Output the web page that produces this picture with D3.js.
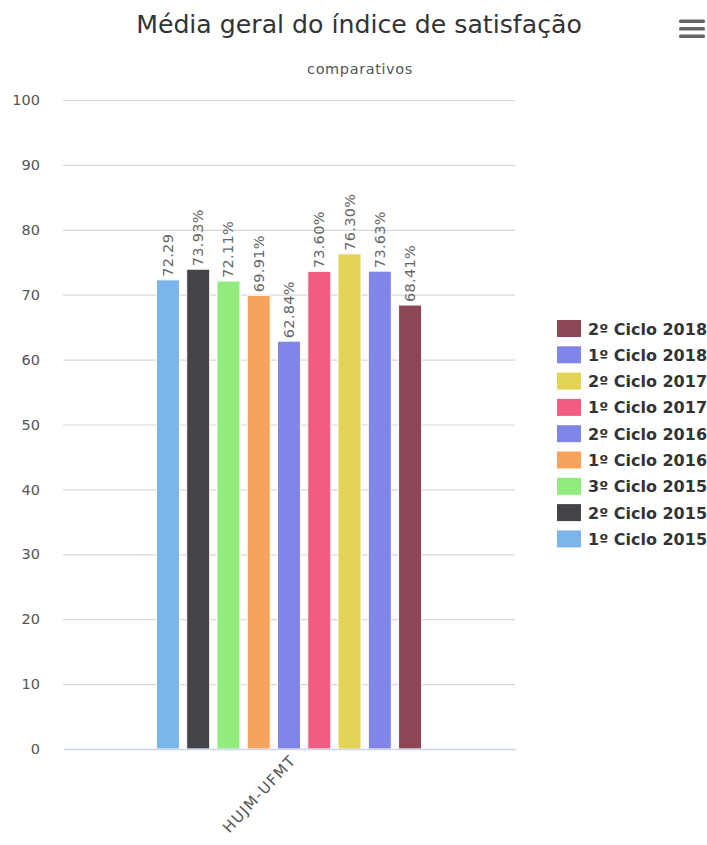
<!DOCTYPE html>
<html>
<head>
<meta charset="utf-8">
<script src="https://cdn.jsdelivr.net/npm/d3@7"></script>
<style>
  html, body { margin: 0; padding: 0; background: #fff; }
  svg { display: block; font-family: "DejaVu Sans", Verdana, sans-serif; }
</style>
</head>
<body>
<svg id="chart" width="707" height="845"></svg>
<script>
// Satisfaction index averages per survey cycle
const categories = ["HUJM-UFMT"];
const seriesNames = ["1º Ciclo 2015", "2º Ciclo 2015", "3º Ciclo 2015", "1º Ciclo 2016",
  "2º Ciclo 2016", "1º Ciclo 2017", "2º Ciclo 2017", "1º Ciclo 2018", "2º Ciclo 2018"];
const seriesValues = [72.29, 73.93, 72.11, 69.91, 62.84, 73.60, 76.30, 73.63, 68.41];
const valueLabels = ["72.29", "73.93%", "72.11%", "69.91%", "62.84%", "73.60%", "76.30%", "73.63%", "68.41%"];
const seriesColors = ["#7cb5ec", "#434348", "#90ed7d", "#f7a35c", "#8085e9",
  "#f15c80", "#e4d354", "#8085e9", "#8d4653"];
const yTicks = [0, 10, 20, 30, 40, 50, 60, 70, 80, 90, 100];

const svg = d3.select("#chart");
const plot = { left: 63, right: 515, top: 100, bottom: 749 };

const y = d3.scaleLinear().domain([0, 100]).range([plot.bottom, plot.top]);
const xCat = d3.scaleBand().domain(categories).range([plot.left, plot.right]).padding(0);
const bw = xCat.bandwidth();
const xSeries = d3.scaleBand().domain(seriesNames)
  .range([bw * 0.2, bw * 0.8]).paddingInner(0.24).paddingOuter(0.1);

// Title and subtitle
svg.append("text").attr("x", 359).attr("y", 33).attr("text-anchor", "middle")
  .attr("font-size", 25.2).attr("fill", "#333").text("Média geral do índice de satisfação");
svg.append("text").attr("x", 360).attr("y", 74).attr("text-anchor", "middle")
  .attr("font-size", 14.5).attr("letter-spacing", 0.6).attr("fill", "#555").text("comparativos");

// Context menu icon
const menu = svg.append("g").attr("fill", "#666");
[19.5, 27, 34.5].forEach(yy => {
  menu.append("rect").attr("x", 679).attr("y", yy).attr("width", 26).attr("height", 3.4).attr("rx", 1.5);
});

// Horizontal grid
const yAxis = d3.axisLeft(y).tickValues(yTicks).tickSize(-(plot.right - plot.left)).tickPadding(23);
const gy = svg.append("g").attr("transform", `translate(${plot.left},0)`).call(yAxis);
gy.select(".domain").remove();
gy.selectAll(".tick line").attr("stroke", "#d8d8d8").attr("stroke-width", 1.2);
gy.selectAll(".tick text").attr("fill", "#555").attr("font-size", 14.5)
  .attr("font-family", "DejaVu Sans, sans-serif");
gy.selectAll(".tick").filter(d => d === 0).select("line").remove();

// Bars
const bars = svg.append("g");
seriesNames.forEach((name, i) => {
  const x0 = xCat(categories[0]) + xSeries(name);
  bars.append("rect")
    .attr("x", x0).attr("y", y(seriesValues[i]))
    .attr("width", xSeries.bandwidth()).attr("height", y(0) - y(seriesValues[i]))
    .attr("fill", seriesColors[i]).attr("stroke", "#fff").attr("stroke-width", 1);
});

// X axis line and category label
const xAxis = d3.axisBottom(xCat).tickSize(0).tickFormat("");
const gx = svg.append("g").attr("transform", `translate(0,${plot.bottom})`).call(xAxis);
gx.select(".domain").attr("stroke", "#ccd6eb").attr("stroke-width", 1.5);
gx.selectAll(".tick text").remove();
const cx = xCat(categories[0]) + bw / 2;
svg.append("text")
  .attr("transform", `translate(${cx + 8},${plot.bottom + 12}) rotate(-47)`)
  .attr("text-anchor", "end").attr("font-size", 15).attr("letter-spacing", 1.4).attr("fill", "#555")
  .text(categories[0]);

// Value labels above bars
const labels = svg.append("g");
seriesNames.forEach((name, i) => {
  const xc = xCat(categories[0]) + xSeries(name) + xSeries.bandwidth() / 2;
  labels.append("text")
    .attr("transform", `translate(${xc + 5},${y(seriesValues[i]) - 3}) rotate(-90)`)
    .attr("font-size", 14.5).attr("fill", "#666").attr("letter-spacing", 0.3)
    .text(valueLabels[i]);
});

// Legend (listed in reverse order)
const legend = svg.append("g");
const rev = seriesNames.map((n, i) => i).reverse();
rev.forEach((idx, k) => {
  const ly = 320 + k * 26.3;
  legend.append("rect").attr("x", 557).attr("y", ly).attr("width", 24).attr("height", 17)
    .attr("fill", seriesColors[idx]);
  legend.append("text").attr("x", 588).attr("y", ly + 14.5)
    .attr("font-size", 16).attr("font-weight", "bold").attr("fill", "#333")
    .text(seriesNames[idx]);
});
</script>
</body>
</html>
